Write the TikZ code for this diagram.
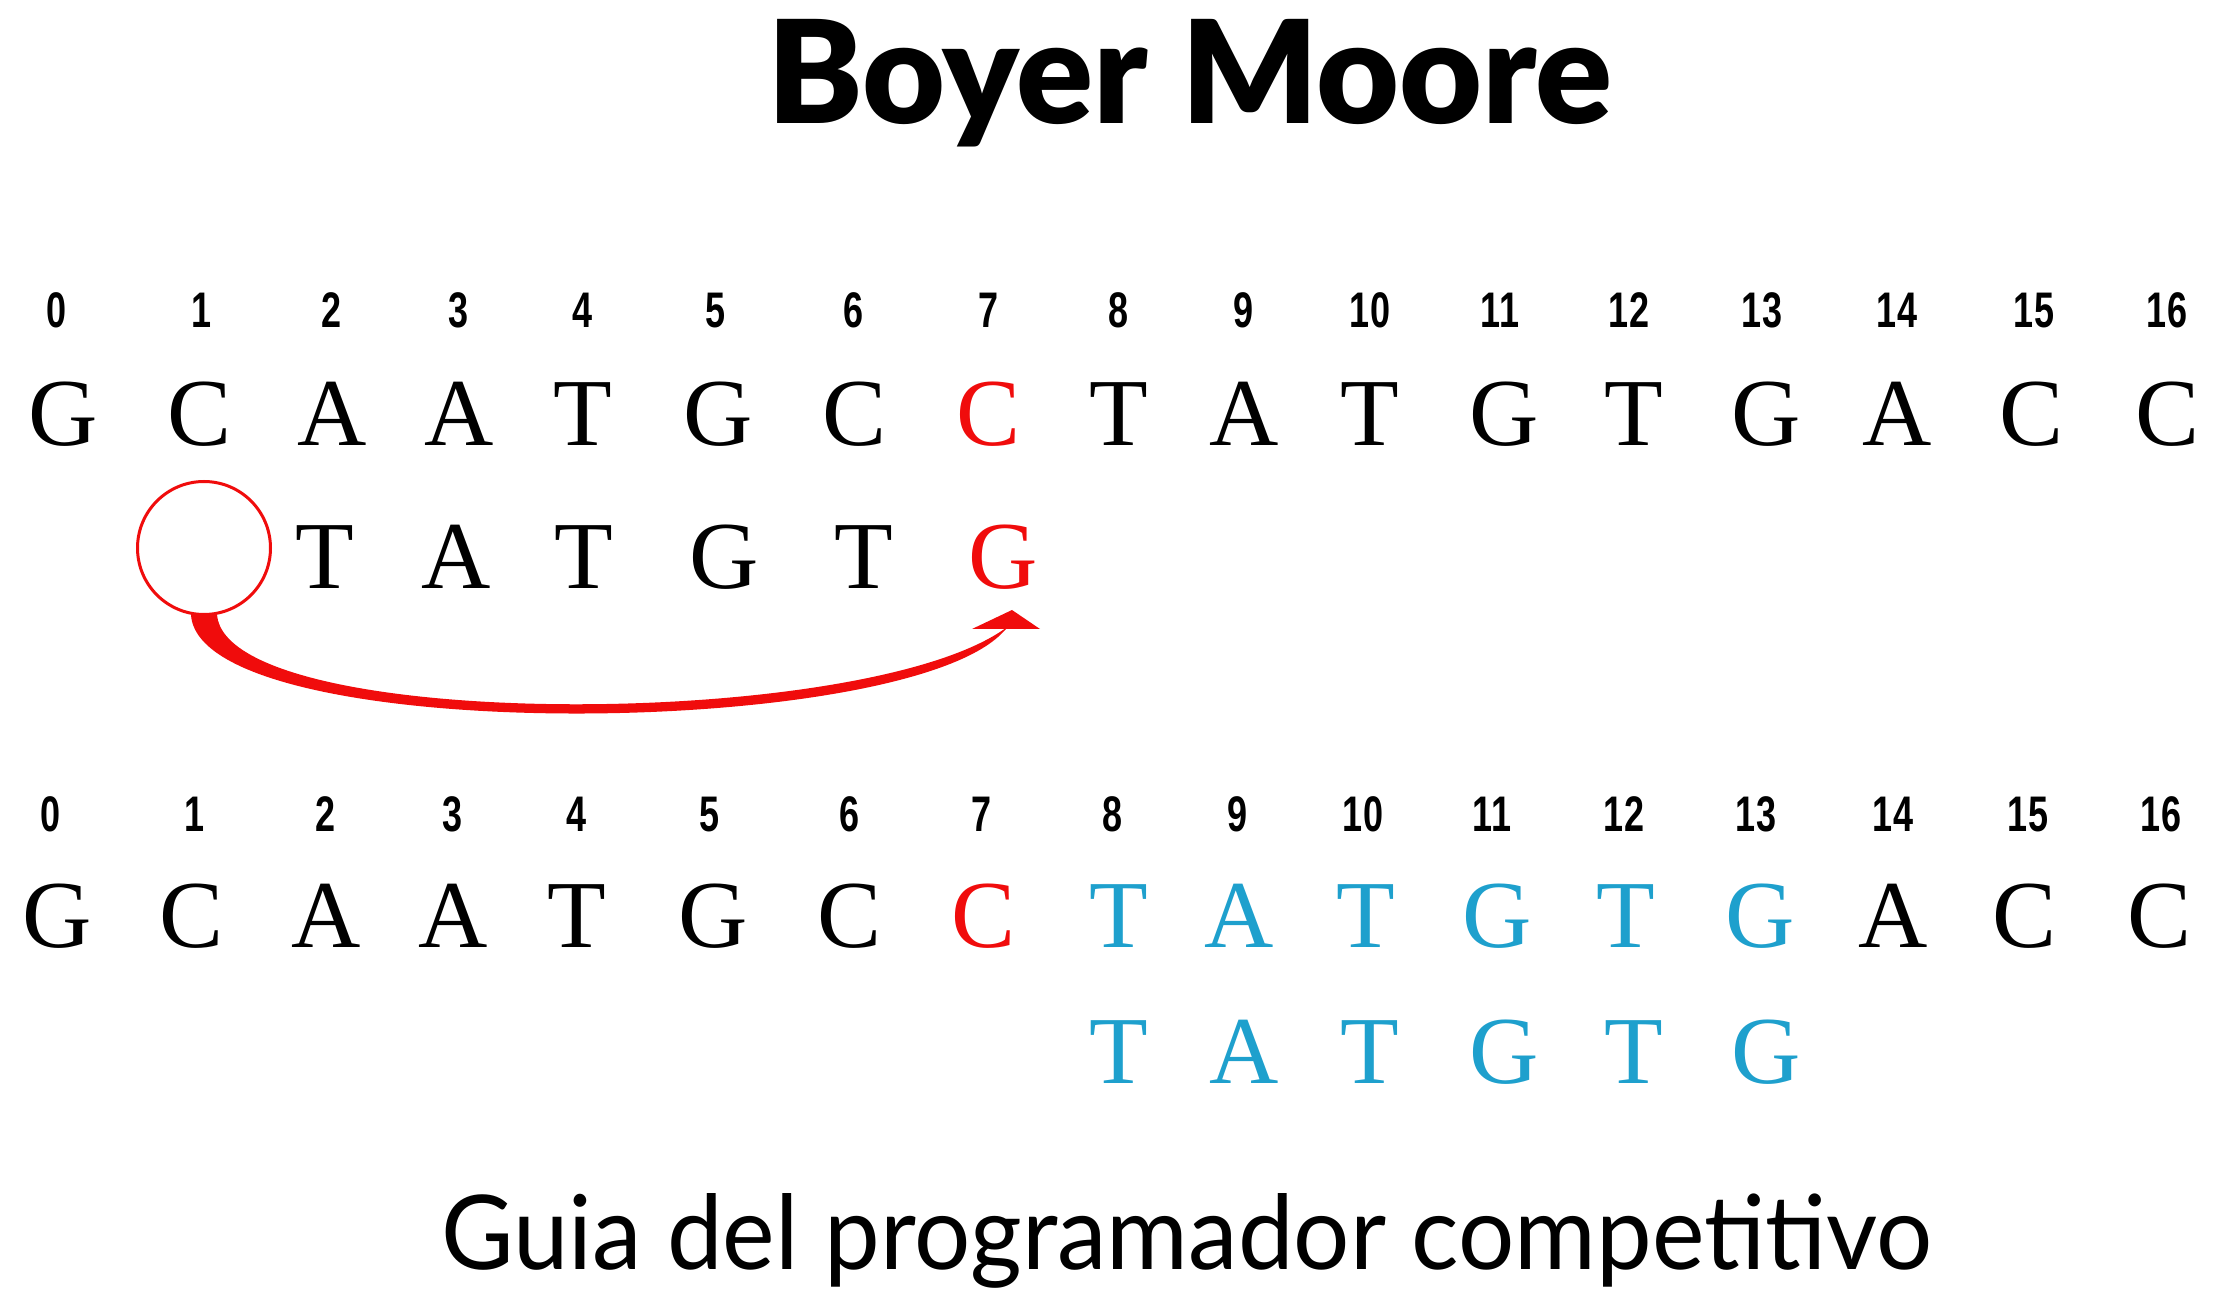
\documentclass[tikz,border=0pt]{standalone}
\usepackage{fontspec}
\usetikzlibrary{arrows.meta,calc}
\setmainfont{Liberation Serif}
\newfontfamily\titlefont{Lato Black}
\newfontfamily\subfont[FakeStretch=0.963]{Lato}
\newfontfamily\numfont[FakeStretch=0.72]{Liberation Sans}
\definecolor{myred}{RGB}{240,12,12}
\definecolor{myblue}{RGB}{30,160,205}
\tikzset{
  idx/.style={anchor=base, inner sep=0pt, font=\numfont\bfseries\fontsize{25}{25}\selectfont},
  dna/.style={anchor=base, inner sep=0pt, font=\fontsize{48}{48}\selectfont},
}
\begin{document}
\begin{tikzpicture}[x=0.5pt,y=-0.5pt]
\useasboundingbox[fill=white] (0,0) rectangle (2235,1315);
\node[anchor=base, inner sep=0pt, font=\titlefont\fontsize{71.5}{72}\selectfont] (title) at (1190,124) {Boyer Moore};
% top indices
\foreach \x [count=\i from 0] in {57,202,332,459,583,716,854,989,1119,1244,1370,1500,1629,1762,1897,2034,2167}
  \node[idx] (t\i) at (\x,328) {\i};
% top text row
\foreach \x/\l/\c [count=\i from 0] in {63/G/black,200/C/black,332/A/black,459/A/black,583/T/black,718/G/black,855/C/black,989/C/myred,1119/T/black,1244/A/black,1370/T/black,1504/G/black,1634/T/black,1766/G/black,1897/A/black,2031/C/black,2167/C/black}
  \node[dna, text=\c] (a\i) at (\x,446) {\l};
% pattern row 1
\foreach \x/\l/\c [count=\i] in {325/T/black,456/A/black,584/T/black,724/G/black,864/T/black,1003/G/myred}
  \node[dna, text=\c] (p\i) at (\x,589) {\l};
\node[draw=myred, line width=1.5pt, circle, minimum size=66.5pt, inner sep=0pt] (circ) at (204,548) {};
\coordinate (tip) at (1012,610);
% tapered curved arrow from the empty circle to the mismatched G
\fill[myred] ($(circ.south)+(-13,-1)$) .. controls ($(circ.south)+(-4,128)$) and ($(tip)+(-132,131)$) .. ($(tip)+(-14,27)$)
  -- ($(tip)+(-1,14)$) .. controls ($(tip)+(-132,121)$) and ($(circ.south)+(24,118)$) .. ($(circ.south)+(13,-1)$) -- cycle;
\fill[myred] (tip) -- ($(tip)+(-40,19)$) -- ($(tip)+(28,19)$) -- cycle;
% bottom indices
\foreach \x [count=\i from 0] in {51,195,326,453,577,710,850,982,1113,1237,1363,1492,1624,1756,1893,2028,2161}
  \node[idx] (b\i) at (\x,832) {\i};
% bottom text row
\foreach \x/\l/\c [count=\i from 0] in {57/G/black,192/C/black,326/A/black,453/A/black,577/T/black,713/G/black,850/C/black,984/C/myred,1119/T/myblue,1239/A/myblue,1366/T/myblue,1497/G/myblue,1626/T/myblue,1760/G/myblue,1893/A/black,2024/C/black,2159/C/black}
  \node[dna, text=\c] (c\i) at (\x,948) {\l};
% pattern row 2
\foreach \x/\l [count=\i] in {1119/T,1244/A,1370/T,1504/G,1634/T,1766/G}
  \node[dna, text=myblue] (q\i) at (\x,1083) {\l};
\node[anchor=base, inner sep=0pt, font=\subfont\fontsize{51.6}{52}\selectfont] (sub) at (1187,1269) {Guia del programador competitivo};
\end{tikzpicture}
\end{document}
